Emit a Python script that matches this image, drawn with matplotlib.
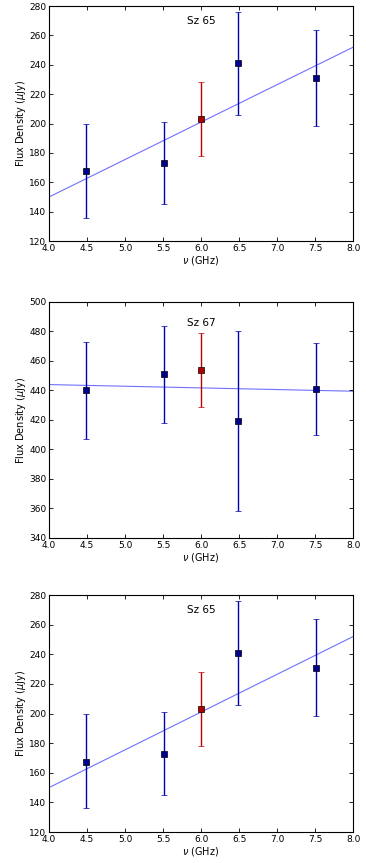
import numpy as np
import matplotlib
matplotlib.use("Agg")
import matplotlib.pyplot as plt

# VLA sub-band fluxes (blue) and full-band flux at 6 GHz (red)
freq = [4.49, 5.51, 6.49, 7.51]
freq_full = 6.0

sz65_flux = [168, 173, 241, 231]
sz65_lo = [136, 145, 206, 198]
sz65_hi = [200, 201, 276, 264]
sz65_full = 203
sz65_full_lo = 178
sz65_full_hi = 228
sz65_fit_x = [4.0, 8.0]
sz65_fit_y = [150, 252]

sz67_flux = [440, 451, 419, 441]
sz67_lo = [407, 418, 358, 410]
sz67_hi = [473, 484, 480, 472]
sz67_full = 454
sz67_full_lo = 429
sz67_full_hi = 479
sz67_fit_x = [4.0, 8.0]
sz67_fit_y = [444, 439.5]

sz65b_flux = [167.5, 173, 241, 231]

panels = [
    ("Sz 65", sz65_flux, sz65_lo, sz65_hi, sz65_full, sz65_full_lo, sz65_full_hi,
     sz65_fit_x, sz65_fit_y, (120, 280), 270),
    ("Sz 67", sz67_flux, sz67_lo, sz67_hi, sz67_full, sz67_full_lo, sz67_full_hi,
     sz67_fit_x, sz67_fit_y, (340, 500), 486),
    ("Sz 65", sz65b_flux, sz65_lo, sz65_hi, sz65_full, sz65_full_lo, sz65_full_hi,
     sz65_fit_x, sz65_fit_y, (120, 280), 270),
]

# axes boxes in figure fractions (left, bottom, width, height)
boxes = [
    (0.134, 0.7207, 0.831, 0.2723),
    (0.134, 0.3766, 0.831, 0.2735),
    (0.134, 0.0359, 0.831, 0.2746),
]

fig = plt.figure(figsize=(3.66, 8.63), dpi=100)

for box, (name, flux, lo, hi, full, flo, fhi, fx, fy, ylim, ty) in zip(boxes, panels):
    ax = fig.add_axes(box)
    flux = np.array(flux)
    yerr = [flux - np.array(lo), np.array(hi) - flux]
    ax.plot(fx, fy, color="#7070ff", lw=0.8, zorder=1)
    ax.errorbar(freq, flux, yerr=yerr, fmt="s", color="#0000b0", ecolor="#0000b0",
                mfc="#000090", mec="black", mew=0.5, ms=4.5, elinewidth=1.0,
                capsize=2.5, capthick=1.0, zorder=3)
    ax.errorbar([freq_full], [full], yerr=[[full - flo], [fhi - full]], fmt="s",
                color="#c00000", ecolor="#c00000", mfc="#b00000", mec="black",
                mew=0.5, ms=4.5, elinewidth=1.0, capsize=2.5, capthick=1.0, zorder=3)
    ax.set_xlim(4.0, 8.0)
    ax.set_ylim(*ylim)
    ax.set_xticks(np.arange(4.0, 8.01, 0.5))
    ax.set_xticklabels([f"{v:.1f}" for v in np.arange(4.0, 8.01, 0.5)])
    ax.set_yticks(np.arange(ylim[0], ylim[1] + 1, 20))
    ax.tick_params(direction="in", top=True, right=True, labelsize=6.5,
                   length=3, width=0.6, pad=2)
    for s in ax.spines.values():
        s.set_linewidth(0.8)
    ax.set_xlabel(r"$\nu$ (GHz)", fontsize=7, labelpad=1)
    ax.set_ylabel(r"Flux Density ($\mu$Jy)", fontsize=7, labelpad=1)
    ax.text(6.0, ty, name, ha="center", va="center", fontsize=7.5)

fig.savefig("out.png", dpi=100)
